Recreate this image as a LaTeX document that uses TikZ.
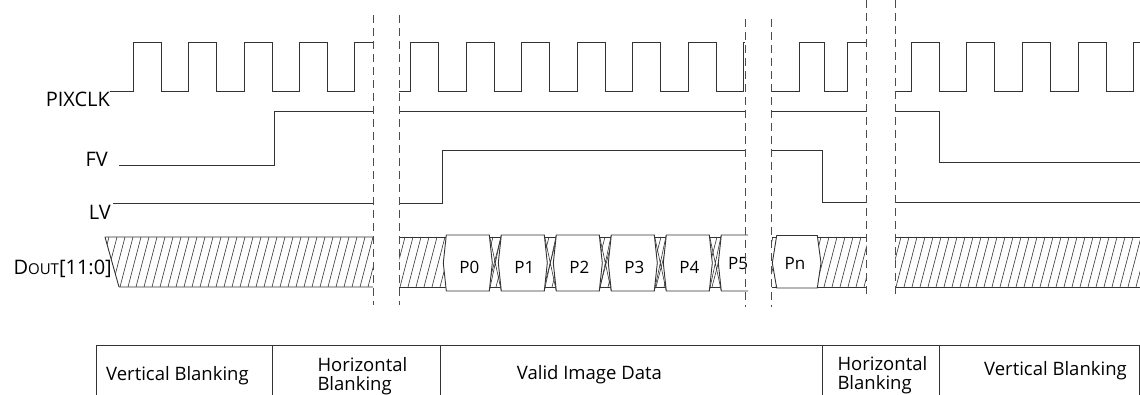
\documentclass[tikz,border=0pt]{standalone}
\usepackage{fontspec}
\setmainfont{Open Sans}
\begin{document}
\begin{tikzpicture}[x=1pt,y=-1pt,
	sig/.style={line width=0.9pt, color=black!80},
	guide/.style={line width=0.8pt, color=black!70, dash pattern=on 8pt off 5pt},
	hatch/.style={line width=0.6pt, color=black!80},
	lbl/.style={inner sep=0pt, anchor=base east, font=\fontsize{20}{22}\selectfont},
	cell/.style={inner sep=0pt, anchor=base, font=\fontsize{17}{20}\selectfont},
	tab/.style={inner sep=0pt, anchor=base west, font=\fontsize{18.5}{22}\selectfont}]
	
	\useasboundingbox (0,0) rectangle (1140,395);
	
	% signal names
	\node[lbl] (pixclk) at (110,107) {PIXCLK};
	
	\node[lbl] (fv) at (108,166.5) {FV};
	
	\node[lbl] (lv) at (111,220) {LV};
	
	\node[lbl] (dout) at (112,275) {D{\fontsize{15}{18}\selectfont OUT}[11:0]};
	
	% PIXCLK
	\draw[sig] (110,91.7) -| (133.3,42.3) -| (161.3,91.7) -| (188.7,42.3) -| (216.7,91.7) -| (244.1,42.3) -| (272.2,91.7) -| (299.6,42.3) -| (327.6,91.7) -| (354.9,42.3) -- (373,42.3);
	
	\draw[sig] (399.3,91.7) -| (410.7,42.3) -| (438.7,91.7) -| (466,42.3) -| (494,91.7) -| (521.7,42.3) -| (549.3,91.7) -| (577,42.3) -| (605,91.7) -| (632.7,42.3) -| (660.3,91.7) -| (688.3,42.3) -| (716,91.7) -| (743.3,42.3) -- (745,42.3);
	
	\draw[sig] (771.7,91.7) -| (799.3,42.3) -| (824.3,91.7) -| (847.3,42.3) -- (866.7,42.3);
	
	\draw[sig] (895,91.7) -| (911,42.3) -| (939.3,91.7) -| (966.7,42.3) -| (994.7,91.7) -| (1022.3,42.3) -| (1050.3,91.7) -| (1078,42.3) -| (1106,91.7) -| (1133.3,42.3) -- (1140,42.3);
	
	% FV
	\draw[sig] (119.3,165) -| (274,111.7) -- (373,111.7);
	
	\draw[sig] (399.3,111.7) -- (745,111.7);
	
	\draw[sig] (771.7,111.7) -- (866.7,111.7);
	
	\draw[sig] (895,111.7) -| (939.3,162.7) -- (1140,162.7);
	
	% LV
	\draw[sig] (113.3,203.5) -- (373,203.5);
	
	\draw[sig] (399.3,203.5) -| (442.7,150.7) -- (745,150.7);
	
	\draw[sig] (771.7,150.7) -| (822.7,202) -- (866.7,202);
	
	\draw[sig] (895,202) -- (1140,202);
	
	% DOUT bus
	\begin{scope}
		\clip (105,237) -- (373,237) -- (373,287) -- (119,287) -- cycle
		(399.3,237) rectangle (745,287)
		(771.7,237) rectangle (866.7,287)
		(895,237) rectangle (1140,287);
		\foreach \hx in {88,96,...,1140}
			\draw[hatch] (\hx,287) -- ++(13,-50);
	\end{scope}
	
	\draw[sig] (105,237) -- (373,237) (119,287) -- (373,287) (105,237) -- (119,287);
	
	\draw[sig] (399.3,237) -- (745,237) (399.3,287) -- (745,287);
	
	\draw[sig] (771.7,237) -- (866.7,237) (771.7,287) -- (866.7,287);
	
	\draw[sig] (895,237) -- (1140,237) (895,287) -- (1140,287);
	
	\foreach \i in {0,...,4} {
		\pgfmathsetmacro\lm{443.3+55*\i}
		\draw[hatch] (\lm+46,235) -- (\lm+58,291) (\lm+46,291) -- (\lm+58,235);
		\filldraw[sig, fill=white] (\lm,263) -- (\lm+3,235) -- (\lm+46,235) -- (\lm+49,263) -- (\lm+46,291) -- (\lm+3,291) -- cycle;
		\node[cell] (p\i) at (\lm+26,273) {P\i};
	}
	
	\fill[white] (718.3,263) -- (721.3,235) -- (748,235) -- (748,291) -- (721.3,291) -- cycle;
	
	\draw[sig] (748,235) -- (721.3,235) -- (718.3,263) -- (721.3,291) -- (748,291);
	
	\node[cell] (p5) at (738,270) {P5};
	
	\filldraw[sig, fill=white] (772.3,263) -- (776.7,235.5) -- (817.3,235.5) -- (821,263) -- (817.3,288) -- (776.7,288) -- cycle;
	
	\node[cell] (pn) at (795,270) {Pn};
	
	% blanking cuts
	\draw[guide] (373,15) -- (373,305);
	\draw[guide] (399.3,15) -- (399.3,305);
	\draw[guide] (745,19) -- (745,307);
	\draw[guide] (771.7,19) -- (771.7,307);
	\draw[guide] (866.7,0) -- (866.7,298);
	\draw[guide] (895,0) -- (895,298);
	
	% table
	\draw[sig] (96.7,400) |- (1139.3,345.7) -- (1139.3,400);
	
	\foreach \tx in {272.7,440.7,822.3,939}
		\draw[sig] (\tx,345.7) -- (\tx,400);
	
	\node[tab] (vb1) at (106,380) {Vertical Blanking};
	
	\node[tab] (hb1) at (317.3,371.5) {Horizontal};
	\node[tab] (hb1b) at (317.3,390) {Blanking};
	
	\node[tab] (vid) at (516.7,379.3) {Valid Image Data};
	
	\node[tab] (hb2) at (837.3,370.5) {Horizontal};
	\node[tab] (hb2b) at (837.3,389) {Blanking};
	
	\node[tab] (vb2) at (984,375) {Vertical Blanking};
	
\end{tikzpicture}
\end{document}
